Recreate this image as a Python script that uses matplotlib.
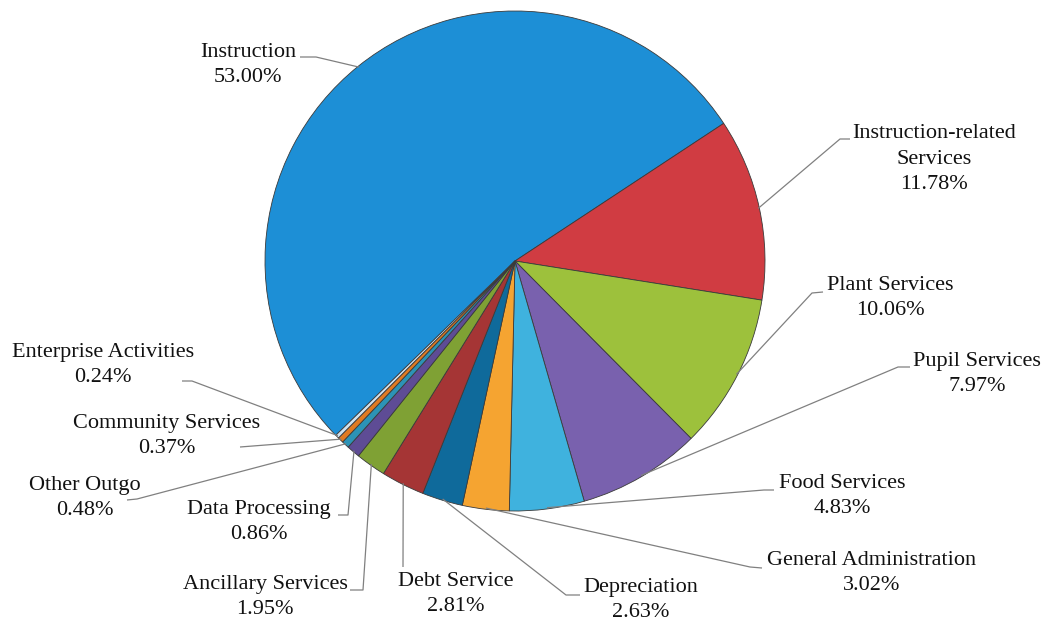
import matplotlib
matplotlib.use('Agg')
import matplotlib.pyplot as plt
import numpy as np

categories = ['Instruction', 'Instruction-related\nServices', 'Plant Services',
              'Pupil Services', 'Food Services', 'General Administration',
              'Depreciation', 'Debt Service', 'Ancillary Services',
              'Data Processing', 'Other Outgo', 'Community Services',
              'Enterprise Activities']
shares = [53.00, 11.78, 10.06, 7.97, 4.83, 3.02, 2.63, 2.81, 1.95, 0.86, 0.48, 0.37, 0.24]

colors = ['#1D8FD6', '#D03C42', '#9DC13C', '#7961AE', '#3FB2DE', '#F5A431',
          '#0F6A9B', '#A53535', '#7FA134', '#5E4C95', '#2C93B6', '#E07A22',
          '#CFE3F2']

# pixel layout of the figure: pie centre and radius
W, H = 1048, 624
CX, CY, R = 515, 261, 250


def px(x, y):
    """pixel position (from top-left) -> data coords where the pie radius is 1"""
    return (x - CX) / R, (CY - y) / R


# text block centre and the start of each leader line (pixels)
label_pos = [(248, 65), (934, 159), (890, 298), (977, 374), (842, 496),
             (872, 573), (641, 600), (456, 594), (265, 597), (259, 522),
             (85, 498), (167, 436), (103, 365)]
leader_start = [[(300, 57), (316, 57)],
                [(850, 139), (840, 139)],
                [(823, 292), (812, 293)],
                [(910, 367), (898, 367)],
                [(774, 490), (764, 490)],
                [(762, 568), (750, 567)],
                [(580, 595), (566, 595)],
                [(403, 567)],
                [(350, 590), (363, 590)],
                [(338, 515), (348, 515)],
                [(127, 500), (137, 499)],
                [(240, 447)],
                [(182, 381), (192, 381)]]

fig = plt.figure(figsize=(W / 100, H / 100), dpi=100)
ax = fig.add_axes([0, 0, 1, 1])

# Instruction ends at about 33 degrees, slices run clockwise
start = 33.4 + shares[0] * 3.6
wedges, _ = ax.pie(shares, colors=colors, startangle=start, counterclock=False,
                   radius=1.0, center=(0, 0),
                   wedgeprops=dict(edgecolor='#3a3a3a', linewidth=0.6))

for w, name, val, pos, pts in zip(wedges, categories, shares, label_pos, leader_start):
    mid = np.deg2rad((w.theta1 + w.theta2) / 2)
    edge = (np.cos(mid) * 0.995, np.sin(mid) * 0.995)
    path = [px(*p) for p in pts] + [edge]
    xs, ys = zip(*path)
    ax.plot(xs, ys, color='#808080', lw=0.9, solid_capstyle='butt', zorder=1)
    tx, ty = px(*pos)
    ax.text(tx, ty, f'{name}\n{val:.2f}%', ha='center', va='center',
            multialignment='center', fontsize=16, family='Liberation Serif',
            color='#111111', linespacing=1.45)

ax.set_xlim(-CX / R, (W - CX) / R)
ax.set_ylim(-(H - CY) / R, CY / R)
ax.set_aspect('equal')
ax.axis('off')

fig.savefig('out.png', dpi=100, facecolor='white')
